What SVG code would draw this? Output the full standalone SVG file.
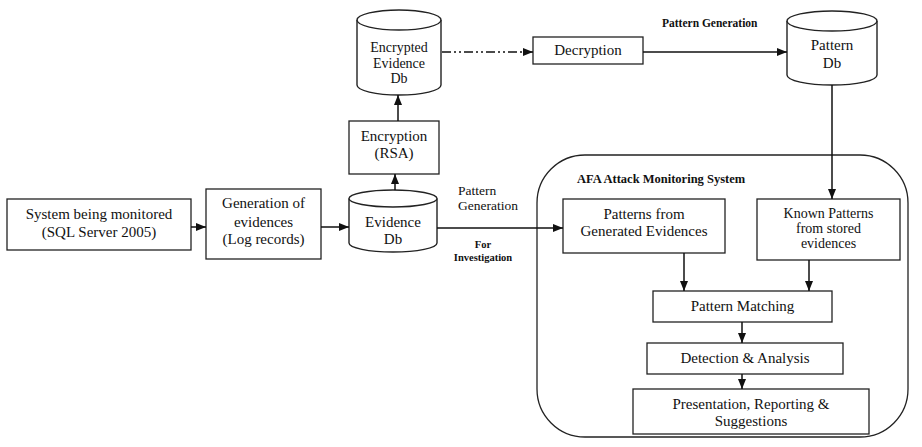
<svg xmlns="http://www.w3.org/2000/svg" width="922" height="447" viewBox="0 0 922 447">
  <style>
    .box { fill: #fff; stroke: #222; stroke-width: 1.3; }
    .db { fill: #fff; stroke: #222; stroke-width: 1.4; }
    .t { font-family: "Liberation Serif", "Times New Roman", serif; font-size: 15px; fill: #111; text-anchor: middle; }
    .s { font-size: 14px; }
    .b { font-weight: bold; }
    .edge { fill: none; stroke: #111; stroke-width: 1.5; }
    .dashdot { stroke-dasharray: 9 3 2 3 2 3; }
  </style>
  <defs>
    <marker id="arrow" viewBox="0 0 10 8" refX="10" refY="4" markerWidth="10" markerHeight="8" markerUnits="userSpaceOnUse" orient="auto">
      <path d="M0,0 L10,4 L0,8 z" fill="#111"/>
    </marker>
  </defs>

  <rect width="922" height="447" fill="#fff"/>

  <!-- monitoring system container -->
  <g id="afa-system">
    <rect x="537" y="155" width="371" height="282" rx="48" ry="48" fill="none" stroke="#222" stroke-width="1.3"/>
    <text class="t b" x="577" y="183" style="font-size:12.5px;text-anchor:start">AFA Attack Monitoring System</text>
  </g>

  <g id="system-monitored">
    <rect class="box" x="7" y="199" width="184" height="51"/>
    <text class="t" x="99" y="219">System being monitored</text>
    <text class="t" x="99" y="237">(SQL Server 2005)</text>
  </g>

  <g id="generation">
    <rect class="box" x="206" y="189" width="115" height="70"/>
    <text class="t" x="263.5" y="208">Generation of</text>
    <text class="t" x="263.5" y="227">evidences</text>
    <text class="t" x="263.5" y="244">(Log records)</text>
  </g>

  <g id="evidence-db">
    <path class="db" d="M349,198.5 V243 A44,9 0 0 0 437,243 V198.5"/>
    <ellipse class="db" cx="393" cy="198.5" rx="44" ry="8.5"/>
    <text class="t" x="393" y="227">Evidence</text>
    <text class="t" x="393" y="244">Db</text>
  </g>

  <g id="encryption">
    <rect class="box" x="349" y="121" width="90" height="53"/>
    <text class="t" x="394" y="141">Encryption</text>
    <text class="t" x="394" y="158">(RSA)</text>
  </g>

  <g id="encrypted-db">
    <path class="db" d="M357,20 V85 A42,10 0 0 0 441,85 V20"/>
    <ellipse class="db" cx="399" cy="20" rx="42" ry="10"/>
    <text class="t s" x="399" y="52">Encrypted</text>
    <text class="t s" x="399" y="68">Evidence</text>
    <text class="t s" x="399" y="83">Db</text>
  </g>

  <g id="decryption">
    <rect class="box" x="533" y="37" width="110" height="27"/>
    <text class="t" x="588" y="55">Decryption</text>
  </g>

  <g id="pattern-db">
    <path class="db" d="M787,21 V75 A45,10 0 0 0 877,75 V21"/>
    <ellipse class="db" cx="832" cy="21" rx="45" ry="10"/>
    <text class="t" x="832" y="50">Pattern</text>
    <text class="t" x="832" y="68">Db</text>
  </g>

  <g id="generated-patterns">
    <rect class="box" x="563" y="199" width="162" height="54"/>
    <text class="t" x="644" y="219">Patterns from</text>
    <text class="t" x="644" y="236">Generated Evidences</text>
  </g>

  <g id="known-patterns">
    <rect class="box" x="757" y="199" width="143" height="61"/>
    <text class="t s" x="828.5" y="218">Known Patterns</text>
    <text class="t s" x="828.5" y="233">from stored</text>
    <text class="t s" x="828.5" y="248">evidences</text>
  </g>

  <g id="pattern-matching">
    <rect class="box" x="653" y="291" width="179" height="31"/>
    <text class="t" x="742.5" y="311">Pattern Matching</text>
  </g>

  <g id="detection">
    <rect class="box" x="647" y="343" width="196" height="31"/>
    <text class="t" x="745" y="363">Detection &amp; Analysis</text>
  </g>

  <g id="presentation">
    <rect class="box" x="633" y="389" width="236" height="45"/>
    <text class="t" x="751" y="409">Presentation, Reporting &amp;</text>
    <text class="t" x="751" y="426">Suggestions</text>
  </g>

  <!-- edge labels -->
  <g id="labels">
    <text class="t" x="458" y="195" style="font-size:13.5px;text-anchor:start">Pattern</text>
    <text class="t" x="458" y="210" style="font-size:13.5px;text-anchor:start">Generation</text>
    <text class="t b" x="483" y="248" style="font-size:10.5px">For</text>
    <text class="t b" x="483" y="261" style="font-size:10.5px">Investigation</text>
    <text class="t b" x="662" y="27" style="font-size:11.5px;text-anchor:start">Pattern Generation</text>
  </g>

  <!-- connectors -->
  <g id="connectors">
    <line class="edge" x1="191" y1="227" x2="206" y2="227" marker-end="url(#arrow)"/>
    <line class="edge" x1="321" y1="227" x2="349" y2="227" marker-end="url(#arrow)"/>
    <line class="edge" x1="395" y1="190" x2="395" y2="174" marker-end="url(#arrow)"/>
    <line class="edge" x1="398" y1="121" x2="398" y2="95" marker-end="url(#arrow)"/>
    <line class="edge dashdot" x1="442" y1="52" x2="533" y2="52" marker-end="url(#arrow)"/>
    <line class="edge" x1="643" y1="52" x2="787" y2="52" marker-end="url(#arrow)"/>
    <line class="edge" x1="437" y1="228" x2="563" y2="228" marker-end="url(#arrow)"/>
    <line class="edge" x1="832" y1="85" x2="832" y2="199" marker-end="url(#arrow)"/>
    <line class="edge" x1="684" y1="253" x2="684" y2="291" marker-end="url(#arrow)"/>
    <line class="edge" x1="809" y1="260" x2="809" y2="291" marker-end="url(#arrow)"/>
    <line class="edge" x1="742" y1="322" x2="742" y2="343" marker-end="url(#arrow)"/>
    <line class="edge" x1="742" y1="374" x2="742" y2="389" marker-end="url(#arrow)"/>
  </g>
</svg>
